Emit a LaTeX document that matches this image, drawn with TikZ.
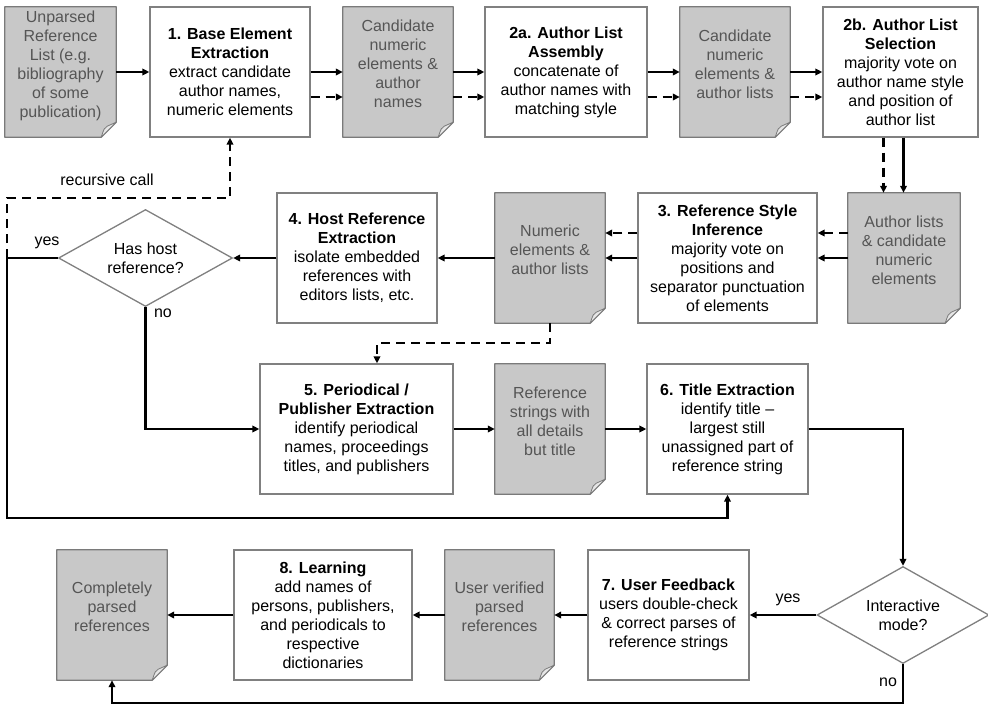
\documentclass[tikz,border=0pt]{standalone}
\usepackage{fontspec}
\setmainfont{Liberation Sans}
\usetikzlibrary{arrows.meta,shapes.geometric,backgrounds,calc}
\definecolor{boxline}{HTML}{808080}
\definecolor{docfill}{HTML}{C8C8C8}
\definecolor{docline}{HTML}{7A7A7A}
\definecolor{doctext}{HTML}{555555}
\definecolor{flapfill}{HTML}{E6E6E6}
\newcommand\doctxt[1]{\raisebox{6pt}[\height][\depth]{\begin{tabular}{@{}c@{}}#1\end{tabular}}}
\begin{document}
\begin{tikzpicture}[x=1pt,y=-1pt,
 every node/.style={font=\fontsize{16}{19}\selectfont, inner sep=0pt, align=center},
 box/.style={draw=boxline, line width=1.3pt, fill=white, minimum height=130pt},
 doc/.style={text=doctext, minimum width=110pt, minimum height=130pt},
 decision/.style={diamond, draw=boxline, line width=1.3pt, fill=white, minimum width=174pt, minimum height=97pt, shape aspect=1.8},
 conn/.style={line width=2.2pt, draw=black, -{Triangle[length=7pt,width=6.5pt]}},
 dconn/.style={conn, dash pattern=on 9pt off 6pt},
 plain/.style={line width=2.2pt, draw=black},
 lbl/.style={text=black}]
\useasboundingbox (0,0) rectangle (988,705);

% top row
\node[doc, minimum width=111pt] (u) at (60.5,72) {\doctxt{Unparsed\\Reference\\List (e.g.\\bibliography\\of some\\publication)}};
\node[box, minimum width=160pt] (b1) at (230,72) {\textbf{1. Base Element}\\\textbf{Extraction}\\extract candidate\\author names,\\numeric elements};
\node[doc] (d1) at (398,72) {\doctxt{Candidate\\numeric\\elements \&\\author\\names}};
\node[box, minimum width=162pt] (b2a) at (566,72) {\textbf{2a. Author List}\\\textbf{Assembly}\\concatenate of\\author names with\\matching style};
\node[doc] (d2) at (735,72) {\doctxt{Candidate\\numeric\\elements \&\\author lists}};
\node[box, minimum width=155pt] (b2b) at (900.5,72) {\textbf{2b. Author List}\\\textbf{Selection}\\majority vote on\\author name style\\and position of\\author list};

% middle row
\node[doc, minimum width=112pt] (d3) at (904,258) {\doctxt{Author lists\\\& candidate\\numeric\\elements}};
\node[box, minimum width=179pt] (b3) at (727.5,258) {\textbf{3. Reference Style}\\\textbf{Inference}\\majority vote on\\positions and\\separator punctuation\\of elements};
\node[doc] (d4) at (550,258) {\doctxt{Numeric\\elements \&\\author lists}};
\node[box, minimum width=160pt] (b4) at (357,258) {\textbf{4. Host Reference}\\\textbf{Extraction}\\isolate embedded\\references with\\editors lists, etc.};
\node[decision] (q1) at (145.5,258) {Has host\\reference?};

% lower row
\node[box, minimum width=193pt] (b5) at (356.5,429) {\textbf{5. Periodical /}\\\textbf{Publisher Extraction}\\identify periodical\\names, proceedings\\titles, and publishers};
\node[doc] (d5) at (550,429) {\doctxt{Reference\\strings with\\all details\\but title}};
\node[box, minimum width=161pt] (b6) at (727.5,429) {\textbf{6. Title Extraction}\\identify title --\\largest still\\unassigned part of\\reference string};

% bottom row
\node[decision, minimum width=172pt] (q2) at (903,615) {Interactive\\mode?};
\node[box, minimum width=161pt] (b7) at (668.5,615) {\textbf{7. User Feedback}\\users double-check\\\& correct parses of\\reference strings};
\node[doc, minimum width=109pt] (d6) at (499.5,615) {\doctxt{User verified\\parsed\\references}};
\node[box, minimum width=178pt] (b8) at (323,615) {\textbf{8. Learning}\\add names of\\persons, publishers,\\and periodicals to\\respective\\dictionaries};
\node[doc] (d7) at (112,615) {\doctxt{Completely\\parsed\\references}};

% document shapes
\begin{pgfonlayer}{background}
\foreach \n in {u,d1,d2,d3,d4,d5,d6,d7}{
 \filldraw[fill=docfill,draw=docline,line width=1.3pt,line join=round] (\n.north west) -- (\n.north east) -- ([yshift=15pt]\n.south east) -- ([xshift=-15pt]\n.south east) -- (\n.south west) -- cycle;
 \filldraw[fill=flapfill,draw=docline,line width=0.8pt,line join=round] ([yshift=15pt]\n.south east) -- ($(\n.south east)+(-9pt,11pt)$) .. controls ($(\n.south east)+(-12pt,9pt)$) .. ([xshift=-15pt]\n.south east) -- cycle;
}
\end{pgfonlayer}

% connectors top row
\draw[conn] (u) -- (b1);
\draw[conn] (b1) -- (d1);
\draw[dconn] ([yshift=-25pt]b1.east) -- ([yshift=-25pt]d1.west);
\draw[conn] (d1) -- (b2a);
\draw[dconn] ([yshift=-25pt]d1.east) -- ([yshift=-25pt]b2a.west);
\draw[conn] (b2a) -- (d2);
\draw[dconn] ([yshift=-25pt]b2a.east) -- ([yshift=-25pt]d2.west);
\draw[conn] (d2) -- (b2b);
\draw[dconn] ([yshift=-25pt]d2.east) -- ([yshift=-25pt]b2b.west);
\draw[dconn] ([xshift=-17pt]b2b.south) -- ([xshift=-17pt]b2b.south |- d3.north);
\draw[conn] ([xshift=3pt]b2b.south) -- ([xshift=3pt]b2b.south |- d3.north);

% middle row
\draw[conn] (d3) -- (b3);
\draw[dconn] ([yshift=25pt]d3.west) -- ([yshift=25pt]b3.east);
\draw[conn] (b3) -- (d4);
\draw[dconn] ([yshift=25pt]b3.west) -- ([yshift=25pt]d4.east);
\draw[conn] (d4) -- (b4);
\draw[conn] (b4) -- (q1);

% has host reference branches
\coordinate (j1) at (7,258);
\coordinate (r1) at (230,198);
\coordinate (j2) at (7,518);
\draw[plain] (q1.west) -- (j1);
\draw[dconn] (j1) |- (r1) -- (b1.south);
\draw[conn] (j1) -- (j2) -| (b6.south);
\draw[conn] (q1.south) |- (b5.west);
\coordinate (j3) at (377,343);
\draw[dconn] (d4.south) |- (j3) -- (j3 |- b5.north);

% lower row
\draw[conn] (b5) -- (d5);
\draw[conn] (d5) -- (b6);
\draw[conn] (b6.east) -| (q2.north);

% bottom row
\draw[conn] (q2) -- (b7);
\draw[conn] (b7) -- (d6);
\draw[conn] (d6) -- (b8);
\draw[conn] (b8) -- (d7);
\coordinate (j4) at (903,703);
\draw[conn] (q2.south) -- (j4) -| (d7.south);

% labels
\node[lbl] (l1) at (107,180) {recursive call};
\node[lbl] (l2) at (47,243) {yes};
\node[lbl] (l3) at (163,313) {no};
\node[lbl] (l4) at (788,600) {yes};
\node[lbl] (l5) at (888,682) {no};
\end{tikzpicture}
\end{document}
